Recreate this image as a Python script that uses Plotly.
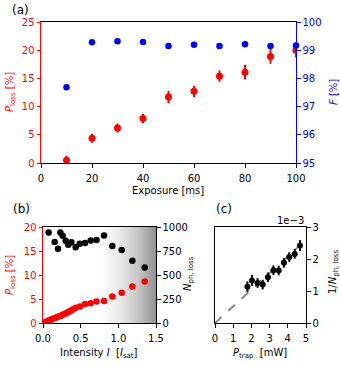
import plotly.graph_objects as go

RED = "#ff0000"
BLUE = "#0000ff"
BLACK = "#000000"
GRAY = "#888888"
FONT = "DejaVu Sans"

# (a) loss probability and fidelity vs exposure time
exposure = [10, 20, 30, 40, 50, 60, 70, 80, 90, 100]
p_loss_a = [0.5, 4.4, 6.2, 7.9, 11.7, 12.7, 15.4, 16.1, 18.9, 20.0]
p_loss_a_err = [0.8, 0.8, 0.8, 0.8, 1.1, 1.0, 1.0, 1.3, 1.3, 1.3]
fidelity = [97.69, 99.28, 99.32, 99.29, 99.15, 99.19, 99.15, 99.21, 99.15, 99.17]

# (b) loss probability and photon number vs intensity
intensity_p = [0.03, 0.05, 0.075, 0.10, 0.125, 0.15, 0.175, 0.20, 0.225, 0.25,
               0.275, 0.30, 0.325, 0.35, 0.375, 0.40, 0.434, 0.49, 0.558,
               0.633, 0.71, 0.81, 0.92, 1.045, 1.186, 1.35]
p_loss_b = [0.15, 0.3, 0.5, 0.7, 0.85, 1.0, 1.15, 1.3, 1.45, 1.6,
            1.8, 2.0, 2.2, 2.4, 2.6, 2.85, 3.2, 3.46, 3.96,
            4.1, 4.5, 4.58, 5.54, 6.3, 7.6, 8.67]
intensity_n = [0.075, 0.155, 0.199, 0.230, 0.261, 0.301, 0.336, 0.376, 0.434,
               0.487, 0.558, 0.633, 0.71, 0.81, 0.92, 1.045, 1.186, 1.35]
n_ph_loss = [944, 844, 774, 944, 910, 858, 816, 840, 788,
             826, 833, 860, 864, 912, 802, 760, 649, 579]
shade_x = [0, 1.5, 1.5, 0, 0]
shade_y = [0, 0, 20, 20, 0]

# (c) inverse photon number vs trap power (units of 1e-3)
p_trap = [1.78, 2.03, 2.34, 2.62, 2.91, 3.21, 3.50, 3.79, 4.08, 4.38, 4.67]
inv_n = [1.13, 1.33, 1.25, 1.20, 1.43, 1.65, 1.64, 1.88, 2.06, 2.16, 2.42]
inv_n_err = [0.17, 0.17, 0.15, 0.15, 0.15, 0.15, 0.15, 0.15, 0.15, 0.15, 0.17]
fit_x = [0, 5]
fit_y = [0, 2.6]

fig = go.Figure()

# panel a
fig.add_trace(go.Scatter(
    x=exposure, y=p_loss_a, mode="markers",
    error_y=dict(array=p_loss_a_err, color=RED, thickness=2, width=0),
    marker=dict(color=RED, size=7), xaxis="x", yaxis="y"))
fig.add_trace(go.Scatter(
    x=exposure, y=fidelity, mode="markers",
    marker=dict(color=BLUE, size=6.5), xaxis="x", yaxis="y2", cliponaxis=False))

# panel b
fig.add_trace(go.Scatter(
    x=shade_x, y=shade_y, mode="lines", fill="toself",
    line=dict(width=0),
    fillgradient=dict(type="horizontal", colorscale=[
        [0, "#ffffff"], [0.5, "#ffffff"], [0.667, "#ececec"],
        [0.833, "#c8c8c8"], [1, "#929292"]]),
    hoverinfo="skip", xaxis="x3", yaxis="y3"))
fig.add_trace(go.Scatter(
    x=intensity_p, y=p_loss_b, mode="markers",
    marker=dict(color=RED, size=6.5), xaxis="x3", yaxis="y3"))
fig.add_trace(go.Scatter(
    x=intensity_n, y=n_ph_loss, mode="markers",
    marker=dict(color=BLACK, size=6.5), xaxis="x3", yaxis="y4"))

# panel c
fig.add_trace(go.Scatter(
    x=fit_x, y=fit_y, mode="lines",
    line=dict(color=GRAY, width=2, dash="dash"), xaxis="x5", yaxis="y5"))
fig.add_trace(go.Scatter(
    x=p_trap, y=inv_n, mode="markers",
    error_y=dict(array=inv_n_err, color=BLACK, thickness=2, width=0),
    marker=dict(color=BLACK, size=6), xaxis="x5", yaxis="y5"))

tick_font = dict(family=FONT, size=10)


def xax(domain, anchor, rng, dtick, fmt=None):
    return dict(domain=domain, anchor=anchor, range=rng, dtick=dtick,
                tickformat=fmt, ticks="outside", ticklen=3.5, tickcolor=BLACK,
                ticklabelstandoff=2,
                showline=True, linecolor=BLACK, linewidth=1, mirror=True,
                showgrid=False, zeroline=False, automargin=False,
                tickfont=dict(tick_font, color=BLACK))


def yax(domain, anchor, rng, dtick, color, side="left",
        overlaying=None, mirror=False):
    return dict(domain=domain, anchor=anchor, range=rng, dtick=dtick,
                side=side, overlaying=overlaying,
                ticks="outside", ticklen=3.5, tickcolor=color,
                showline=True, linecolor=color, linewidth=1,
                mirror=mirror, showgrid=False, zeroline=False,
                automargin=False, tickfont=dict(tick_font, color=color))


def label(text, x, y, color=BLACK, angle=0, size=10, anchor="center"):
    return dict(text=text, x=x / 340, y=1 - y / 365, xref="paper", yref="paper",
                xanchor=anchor, yanchor="middle", showarrow=False,
                textangle=angle, font=dict(family=FONT, size=size, color=color))


xa = [41 / 340, 296 / 340]
ya = [1 - 163 / 365, 1 - 22 / 365]
xb = [43 / 340, 156 / 340]
yb = [1 - 323 / 365, 1 - 227 / 365]
xc = [215 / 340, 306 / 340]

fig.update_layout(
    width=340, height=365,
    margin=dict(l=0, r=0, t=0, b=0),
    plot_bgcolor="white", paper_bgcolor="white",
    showlegend=False,
    font=dict(family=FONT, size=10, color=BLACK),
    xaxis=xax(xa, "y", [0, 100], 20),
    yaxis=yax(ya, "x", [0, 25], 5, RED),
    yaxis2=yax(ya, "x", [95, 100], 1, BLUE, side="right", overlaying="y"),
    xaxis3=xax(xb, "y3", [0, 1.5], 0.5, ".1f"),
    yaxis3=yax(yb, "x3", [0, 20], 5, RED),
    yaxis4=yax(yb, "x3", [0, 1000], 250, BLACK, side="right", overlaying="y3"),
    xaxis5=xax(xc, "y5", [0, 5], 1),
    yaxis5=yax(yb, "x5", [0, 3], 1, BLACK, side="right", mirror=True),
    annotations=[
        label("(a)", 10, 10, size=12, anchor="left"),
        label("(b)", 11, 209, size=12, anchor="left"),
        label("(c)", 214, 209, size=12, anchor="left"),
        label("Exposure [ms]", 168, 190),
        label("<i>P</i><sub>loss</sub> [%]", 10, 92, RED, -90),
        label("<i>F</i> [%]", 333, 92, BLUE, -90),
        label("Intensity <i>I</i>  [<i>I</i><sub>sat</sub>]", 99, 353),
        label("<i>P</i><sub>loss</sub> [%]", 10, 275, RED, -90),
        label("<i>N</i><sub>ph, loss</sub>", 188, 274, BLACK, -90),
        label("<i>P</i><sub>trap</sub>  [mW]", 260, 353),
        label("1/<i>N</i><sub>ph, loss</sub>", 333, 272, BLACK, -90),
        label("1e\u22123", 306, 220, anchor="right"),
    ],
)

# the page body has a default 8px margin; drop it so the figure fills the window
fig.write_html("out.html", config={"displayModeBar": False},
               post_script="document.body.style.margin='0';")
